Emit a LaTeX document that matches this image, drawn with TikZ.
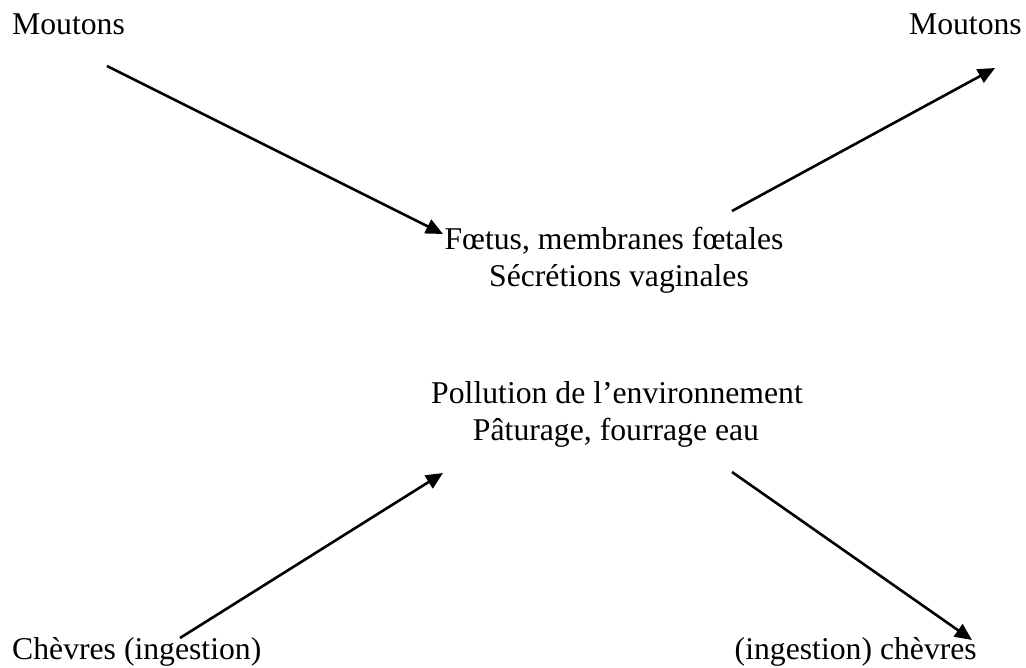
\documentclass[tikz,border=0pt]{standalone}
\usepackage{fontspec}
\setmainfont{Liberation Serif}
\usetikzlibrary{arrows.meta}
\begin{document}
\begin{tikzpicture}[x=1pt,y=-1pt,
  lbl/.style={inner sep=0pt,font=\fontsize{31.7}{36}\selectfont},
  flow/.style={line width=2.6pt,-{Triangle[length=17pt,width=15pt]}}]
\useasboundingbox[fill=white] (0,0) rectangle (1026,668);
% texts
\node[lbl,anchor=base west] (mtl) at (12,35) {Moutons};
\node[lbl,anchor=base east] (mtr) at (1022,35) {Moutons};
\node[lbl,anchor=base] (f1) at (614,250) {Fœtus, membranes fœtales};
\node[lbl,anchor=base] (f2) at (619,287) {Sécrétions vaginales};
\node[lbl,anchor=base] (p1) at (617,403) {Pollution de l’environnement};
\node[lbl,anchor=base] (p2) at (616,440) {Pâturage, fourrage eau};
\node[lbl,anchor=base west] (cl) at (12,659) {Chèvres (ingestion)};
\node[lbl,anchor=base east] (cr) at (977,659) {(ingestion) chèvres};
% arrow end points
\coordinate (a1s) at (107,66);  \coordinate (a1e) at (443,234);
\coordinate (a2s) at (732,211); \coordinate (a2e) at (995,68);
\coordinate (a3s) at (180,638); \coordinate (a3e) at (443,473);
\coordinate (a4s) at (732,472); \coordinate (a4e) at (972,640);
\draw[flow] (a1s) -- (a1e);
\draw[flow] (a2s) -- (a2e);
\draw[flow] (a3s) -- (a3e);
\draw[flow] (a4s) -- (a4e);
\end{tikzpicture}
\end{document}
